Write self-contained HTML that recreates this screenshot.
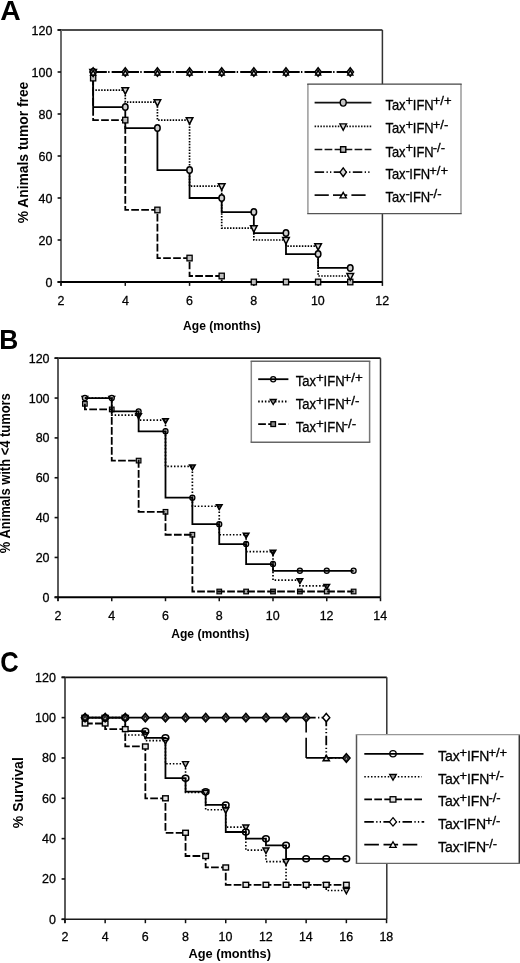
<!DOCTYPE html><html><head><meta charset="utf-8"><style>html,body{margin:0;padding:0;background:#fff;}svg{display:block;will-change:transform} text[font-weight="normal"],text:not([font-weight]){stroke:#000;stroke-width:0.3px}</style></head><body>
<svg width="520" height="963" viewBox="0 0 520 963" font-family="Liberation Sans, sans-serif">
<rect width="520" height="963" fill="#fff"/>
<text transform="translate(0.19,19.90) scale(1.0300,1)" font-size="27.5" font-weight="bold" fill="#000">A</text>
<path d="M57.60,30H382.4" fill="none" stroke="#111" stroke-width="1.7"/>
<path d="M382.4,30V282" fill="none" stroke="#333" stroke-width="1.5"/>
<path d="M61,30V285.60" fill="none" stroke="#6c6c6c" stroke-width="2.0"/>
<path d="M57.60,282H382.4" fill="none" stroke="#000" stroke-width="1.9"/>
<path d="M57.60,282.00H61" stroke="#111" stroke-width="1.6"/>
<path d="M57.60,240.00H61" stroke="#111" stroke-width="1.6"/>
<path d="M57.60,198.00H61" stroke="#111" stroke-width="1.6"/>
<path d="M57.60,156.00H61" stroke="#111" stroke-width="1.6"/>
<path d="M57.60,114.00H61" stroke="#111" stroke-width="1.6"/>
<path d="M57.60,72.00H61" stroke="#111" stroke-width="1.6"/>
<path d="M57.60,30.00H61" stroke="#111" stroke-width="1.6"/>
<path d="M61.00,282V285.90" stroke="#111" stroke-width="1.5"/>
<path d="M125.28,282V285.90" stroke="#111" stroke-width="1.5"/>
<path d="M189.56,282V285.90" stroke="#111" stroke-width="1.5"/>
<path d="M253.84,282V285.90" stroke="#111" stroke-width="1.5"/>
<path d="M318.12,282V285.90" stroke="#111" stroke-width="1.5"/>
<path d="M382.40,282V285.90" stroke="#111" stroke-width="1.5"/>
<text transform="translate(45.39,286.50) scale(0.9200,1)" font-size="13.6" font-weight="normal" fill="#000">0</text>
<text transform="translate(38.45,244.50) scale(0.9200,1)" font-size="13.6" font-weight="normal" fill="#000">20</text>
<text transform="translate(38.45,202.50) scale(0.9200,1)" font-size="13.6" font-weight="normal" fill="#000">40</text>
<text transform="translate(38.45,160.50) scale(0.9200,1)" font-size="13.6" font-weight="normal" fill="#000">60</text>
<text transform="translate(38.45,118.50) scale(0.9200,1)" font-size="13.6" font-weight="normal" fill="#000">80</text>
<text transform="translate(31.51,76.50) scale(0.9200,1)" font-size="13.6" font-weight="normal" fill="#000">100</text>
<text transform="translate(31.51,34.50) scale(0.9200,1)" font-size="13.6" font-weight="normal" fill="#000">120</text>
<text transform="translate(57.54,305.00) scale(0.9300,1)" font-size="13.4" font-weight="normal" fill="#000">2</text>
<text transform="translate(121.88,305.00) scale(0.9300,1)" font-size="13.4" font-weight="normal" fill="#000">4</text>
<text transform="translate(186.04,305.00) scale(0.9300,1)" font-size="13.4" font-weight="normal" fill="#000">6</text>
<text transform="translate(250.35,305.00) scale(0.9300,1)" font-size="13.4" font-weight="normal" fill="#000">8</text>
<text transform="translate(310.95,305.00) scale(0.9300,1)" font-size="13.4" font-weight="normal" fill="#000">10</text>
<text transform="translate(375.33,305.00) scale(0.9300,1)" font-size="13.4" font-weight="normal" fill="#000">12</text>
<text transform="translate(27.80,223.35) rotate(-90) scale(0.9886,1)" font-size="14" font-weight="bold">% Animals tumor free</text>
<text transform="translate(183.10,330.20) scale(0.9089,1)" font-size="13.3" font-weight="bold">Age (months)</text>
<path d="M93.14,72.00H125.28" stroke="#000" stroke-width="1.9" stroke-dasharray="13.7 1.3 1.4 2.1 40"/>
<path d="M125.28,72.00H157.42" stroke="#000" stroke-width="1.9" stroke-dasharray="13.7 1.3 1.4 2.1 40"/>
<path d="M157.42,72.00H189.56" stroke="#000" stroke-width="1.9" stroke-dasharray="13.7 1.3 1.4 2.1 40"/>
<path d="M189.56,72.00H221.70" stroke="#000" stroke-width="1.9" stroke-dasharray="13.7 1.3 1.4 2.1 40"/>
<path d="M221.70,72.00H253.84" stroke="#000" stroke-width="1.9" stroke-dasharray="13.7 1.3 1.4 2.1 40"/>
<path d="M253.84,72.00H285.98" stroke="#000" stroke-width="1.9" stroke-dasharray="13.7 1.3 1.4 2.1 40"/>
<path d="M285.98,72.00H318.12" stroke="#000" stroke-width="1.9" stroke-dasharray="13.7 1.3 1.4 2.1 40"/>
<path d="M318.12,72.00H350.26" stroke="#000" stroke-width="1.9" stroke-dasharray="13.7 1.3 1.4 2.1 40"/>
<path d="M93.14,78.09V120.09H125.28V209.97H157.42V258.06H189.56V275.99H221.70V282.00H253.84V282.00H285.98V282.00H318.12V282.00H350.26" fill="none" stroke="#000" stroke-width="1.8" stroke-dasharray="7.7 2.3"/>
<path d="M93.14,72.00V90.06H125.28V102.03H157.42V120.09H189.56V186.03H221.70V228.03H253.84V240.00H285.98V246.09H318.12V275.99H350.26" fill="none" stroke="#000" stroke-width="1.7" stroke-dasharray="1.5 1.4"/>
<path d="M93.14,72.00V107.07H125.28V128.07H157.42V170.07H189.56V198.00H221.70V212.07H253.84V233.07H285.98V254.07H318.12V267.93H350.26" fill="none" stroke="#000" stroke-width="1.8"/>
<rect x="90.54" y="75.29" width="5.20" height="5.60" fill="#bdbdbd" stroke="#000" stroke-width="1.3"/>
<rect x="122.68" y="117.29" width="5.20" height="5.60" fill="#bdbdbd" stroke="#000" stroke-width="1.3"/>
<rect x="154.82" y="207.17" width="5.20" height="5.60" fill="#bdbdbd" stroke="#000" stroke-width="1.3"/>
<rect x="186.96" y="255.26" width="5.20" height="5.60" fill="#bdbdbd" stroke="#000" stroke-width="1.3"/>
<rect x="219.10" y="273.19" width="5.20" height="5.60" fill="#bdbdbd" stroke="#000" stroke-width="1.3"/>
<rect x="251.24" y="279.20" width="5.20" height="5.60" fill="#bdbdbd" stroke="#000" stroke-width="1.3"/>
<rect x="283.38" y="279.20" width="5.20" height="5.60" fill="#bdbdbd" stroke="#000" stroke-width="1.3"/>
<rect x="315.52" y="279.20" width="5.20" height="5.60" fill="#bdbdbd" stroke="#000" stroke-width="1.3"/>
<rect x="347.66" y="279.20" width="5.20" height="5.60" fill="#bdbdbd" stroke="#000" stroke-width="1.3"/>
<path d="M89.84,69.60H96.44L93.14,76.00Z" fill="#d8d8d8" stroke="#000" stroke-width="1.5" stroke-linejoin="miter"/>
<path d="M121.98,87.66H128.58L125.28,94.06Z" fill="#d8d8d8" stroke="#000" stroke-width="1.5" stroke-linejoin="miter"/>
<path d="M154.12,99.63H160.72L157.42,106.03Z" fill="#d8d8d8" stroke="#000" stroke-width="1.5" stroke-linejoin="miter"/>
<path d="M186.26,117.69H192.86L189.56,124.09Z" fill="#d8d8d8" stroke="#000" stroke-width="1.5" stroke-linejoin="miter"/>
<path d="M218.40,183.63H225.00L221.70,190.03Z" fill="#d8d8d8" stroke="#000" stroke-width="1.5" stroke-linejoin="miter"/>
<path d="M250.54,225.63H257.14L253.84,232.03Z" fill="#d8d8d8" stroke="#000" stroke-width="1.5" stroke-linejoin="miter"/>
<path d="M282.68,237.60H289.28L285.98,244.00Z" fill="#d8d8d8" stroke="#000" stroke-width="1.5" stroke-linejoin="miter"/>
<path d="M314.82,243.69H321.42L318.12,250.09Z" fill="#d8d8d8" stroke="#000" stroke-width="1.5" stroke-linejoin="miter"/>
<path d="M346.96,273.59H353.56L350.26,279.99Z" fill="#d8d8d8" stroke="#000" stroke-width="1.5" stroke-linejoin="miter"/>
<ellipse cx="93.14" cy="72.00" rx="2.75" ry="3.25" fill="#d0d0d0" stroke="#000" stroke-width="1.5"/>
<ellipse cx="125.28" cy="107.07" rx="2.75" ry="3.25" fill="#d0d0d0" stroke="#000" stroke-width="1.5"/>
<ellipse cx="157.42" cy="128.07" rx="2.75" ry="3.25" fill="#d0d0d0" stroke="#000" stroke-width="1.5"/>
<ellipse cx="189.56" cy="170.07" rx="2.75" ry="3.25" fill="#d0d0d0" stroke="#000" stroke-width="1.5"/>
<ellipse cx="221.70" cy="198.00" rx="2.75" ry="3.25" fill="#d0d0d0" stroke="#000" stroke-width="1.5"/>
<ellipse cx="253.84" cy="212.07" rx="2.75" ry="3.25" fill="#d0d0d0" stroke="#000" stroke-width="1.5"/>
<ellipse cx="285.98" cy="233.07" rx="2.75" ry="3.25" fill="#d0d0d0" stroke="#000" stroke-width="1.5"/>
<ellipse cx="318.12" cy="254.07" rx="2.75" ry="3.25" fill="#d0d0d0" stroke="#000" stroke-width="1.5"/>
<ellipse cx="350.26" cy="267.93" rx="2.75" ry="3.25" fill="#d0d0d0" stroke="#000" stroke-width="1.5"/>
<path d="M93.14,67.70L96.44,72.00L93.14,76.30L89.84,72.00Z" fill="#bbb" stroke="#000" stroke-width="1.4"/>
<path d="M125.28,67.70L128.58,72.00L125.28,76.30L121.98,72.00Z" fill="#bbb" stroke="#000" stroke-width="1.4"/>
<path d="M157.42,67.70L160.72,72.00L157.42,76.30L154.12,72.00Z" fill="#bbb" stroke="#000" stroke-width="1.4"/>
<path d="M189.56,67.70L192.86,72.00L189.56,76.30L186.26,72.00Z" fill="#bbb" stroke="#000" stroke-width="1.4"/>
<path d="M221.70,67.70L225.00,72.00L221.70,76.30L218.40,72.00Z" fill="#bbb" stroke="#000" stroke-width="1.4"/>
<path d="M253.84,67.70L257.14,72.00L253.84,76.30L250.54,72.00Z" fill="#bbb" stroke="#000" stroke-width="1.4"/>
<path d="M285.98,67.70L289.28,72.00L285.98,76.30L282.68,72.00Z" fill="#bbb" stroke="#000" stroke-width="1.4"/>
<path d="M318.12,67.70L321.42,72.00L318.12,76.30L314.82,72.00Z" fill="#bbb" stroke="#000" stroke-width="1.4"/>
<path d="M350.26,67.70L353.56,72.00L350.26,76.30L346.96,72.00Z" fill="#bbb" stroke="#000" stroke-width="1.4"/>
<path d="M90.64,74.90H95.64L93.14,70.30Z" fill="#e8e8e8" stroke="#000" stroke-width="1.5" stroke-linejoin="miter"/>
<path d="M122.78,74.90H127.78L125.28,70.30Z" fill="#e8e8e8" stroke="#000" stroke-width="1.5" stroke-linejoin="miter"/>
<path d="M154.92,74.90H159.92L157.42,70.30Z" fill="#e8e8e8" stroke="#000" stroke-width="1.5" stroke-linejoin="miter"/>
<path d="M187.06,74.90H192.06L189.56,70.30Z" fill="#e8e8e8" stroke="#000" stroke-width="1.5" stroke-linejoin="miter"/>
<path d="M219.20,74.90H224.20L221.70,70.30Z" fill="#e8e8e8" stroke="#000" stroke-width="1.5" stroke-linejoin="miter"/>
<path d="M251.34,74.90H256.34L253.84,70.30Z" fill="#e8e8e8" stroke="#000" stroke-width="1.5" stroke-linejoin="miter"/>
<path d="M283.48,74.90H288.48L285.98,70.30Z" fill="#e8e8e8" stroke="#000" stroke-width="1.5" stroke-linejoin="miter"/>
<path d="M315.62,74.90H320.62L318.12,70.30Z" fill="#e8e8e8" stroke="#000" stroke-width="1.5" stroke-linejoin="miter"/>
<path d="M347.76,74.90H352.76L350.26,70.30Z" fill="#e8e8e8" stroke="#000" stroke-width="1.5" stroke-linejoin="miter"/>
<rect x="307.9" y="84.1" width="153.10" height="129.50" fill="#fff"/>
<path d="M307.9,84.1V213.6" stroke="#9a9a9a" stroke-width="1.5"/>
<path d="M461.0,84.1V213.6" stroke="#9a9a9a" stroke-width="1.5"/>
<path d="M307.2,84.1H461.7" stroke="#444" stroke-width="1.4"/>
<path d="M307.2,213.6H461.7" stroke="#555" stroke-width="1.4"/>
<path d="M314.6,102.6H371.4" stroke="#111" stroke-width="1.7"/>
<ellipse cx="343.20" cy="102.60" rx="3.00" ry="3.50" fill="#c4c4c4" stroke="#000" stroke-width="1.4"/>
<path d="M314.6,126.3H371.4" stroke="#111" stroke-width="1.7" stroke-dasharray="1.5 1.4"/>
<path d="M339.90,123.90H346.50L343.20,130.30Z" fill="#d8d8d8" stroke="#000" stroke-width="1.4" stroke-linejoin="miter"/>
<path d="M314.6,149.5H371.4" stroke="#111" stroke-width="1.7" stroke-dasharray="7.7 2.3"/>
<rect x="340.60" y="146.70" width="5.20" height="5.60" fill="#bdbdbd" stroke="#000" stroke-width="1.4"/>
<path d="M314.6,172.2H371.4" stroke="#111" stroke-width="1.7" stroke-dasharray="9.5 2.4 1.3 2.2 1.3 2.4"/>
<path d="M343.20,167.90L346.40,172.20L343.20,176.50L340.00,172.20Z" fill="#d8d8d8" stroke="#000" stroke-width="1.4"/>
<path d="M314.6,195.2H366.0" stroke="#111" stroke-width="1.7" stroke-dasharray="14.2 4.2"/>
<path d="M340.10,197.90H346.30L343.20,192.50Z" fill="#ffffff" stroke="#000" stroke-width="1.4" stroke-linejoin="miter"/>
<text transform="translate(385.40,109.70) scale(0.92,1)" font-size="14.1">Tax</text>
<text transform="translate(405.49,105.10) scale(1.05,1)" font-size="12.5">+</text>
<text transform="translate(412.85,109.70) scale(0.92,1)" font-size="14.1">IFN</text>
<text transform="translate(432.65,105.10) scale(1.05,1)" font-size="12.5">+/+</text>
<text transform="translate(385.40,133.40) scale(0.92,1)" font-size="14.1">Tax</text>
<text transform="translate(405.49,128.80) scale(1.05,1)" font-size="12.5">+</text>
<text transform="translate(412.85,133.40) scale(0.92,1)" font-size="14.1">IFN</text>
<text transform="translate(432.65,128.80) scale(1.05,1)" font-size="12.5">+/-</text>
<text transform="translate(385.40,156.60) scale(0.92,1)" font-size="14.1">Tax</text>
<text transform="translate(405.49,152.00) scale(1.05,1)" font-size="12.5">+</text>
<text transform="translate(412.85,156.60) scale(0.92,1)" font-size="14.1">IFN</text>
<text transform="translate(432.65,152.00) scale(1.05,1)" font-size="12.5">-/-</text>
<text transform="translate(385.40,179.30) scale(0.92,1)" font-size="14.1">Tax</text>
<text transform="translate(405.49,174.70) scale(1.05,1)" font-size="12.5">-</text>
<text transform="translate(409.36,179.30) scale(0.92,1)" font-size="14.1">IFN</text>
<text transform="translate(429.15,174.70) scale(1.05,1)" font-size="12.5">+/+</text>
<text transform="translate(385.40,202.30) scale(0.92,1)" font-size="14.1">Tax</text>
<text transform="translate(405.49,197.70) scale(1.05,1)" font-size="12.5">-</text>
<text transform="translate(409.36,202.30) scale(0.92,1)" font-size="14.1">IFN</text>
<text transform="translate(429.15,197.70) scale(1.05,1)" font-size="12.5">-/-</text>
<text transform="translate(-0.81,349.00) scale(0.9700,1)" font-size="27.2" font-weight="bold" fill="#000">B</text>
<path d="M54.60,358.2H380.5" fill="none" stroke="#111" stroke-width="1.7"/>
<path d="M380.5,358.2V597.3" fill="none" stroke="#333" stroke-width="1.5"/>
<path d="M58,358.2V600.90" fill="none" stroke="#4a4a4a" stroke-width="1.8"/>
<path d="M54.60,597.3H380.5" fill="none" stroke="#000" stroke-width="1.9"/>
<path d="M54.60,597.30H58" stroke="#111" stroke-width="1.6"/>
<path d="M54.60,557.45H58" stroke="#111" stroke-width="1.6"/>
<path d="M54.60,517.60H58" stroke="#111" stroke-width="1.6"/>
<path d="M54.60,477.75H58" stroke="#111" stroke-width="1.6"/>
<path d="M54.60,437.90H58" stroke="#111" stroke-width="1.6"/>
<path d="M54.60,398.05H58" stroke="#111" stroke-width="1.6"/>
<path d="M54.60,358.20H58" stroke="#111" stroke-width="1.6"/>
<path d="M58.00,597.3V601.20" stroke="#111" stroke-width="1.5"/>
<path d="M111.75,597.3V601.20" stroke="#111" stroke-width="1.5"/>
<path d="M165.50,597.3V601.20" stroke="#111" stroke-width="1.5"/>
<path d="M219.25,597.3V601.20" stroke="#111" stroke-width="1.5"/>
<path d="M273.00,597.3V601.20" stroke="#111" stroke-width="1.5"/>
<path d="M326.75,597.3V601.20" stroke="#111" stroke-width="1.5"/>
<path d="M380.50,597.3V601.20" stroke="#111" stroke-width="1.5"/>
<text transform="translate(42.59,601.80) scale(0.9200,1)" font-size="13.6" font-weight="normal" fill="#000">0</text>
<text transform="translate(35.65,561.95) scale(0.9200,1)" font-size="13.6" font-weight="normal" fill="#000">20</text>
<text transform="translate(35.65,522.10) scale(0.9200,1)" font-size="13.6" font-weight="normal" fill="#000">40</text>
<text transform="translate(35.65,482.25) scale(0.9200,1)" font-size="13.6" font-weight="normal" fill="#000">60</text>
<text transform="translate(35.65,442.40) scale(0.9200,1)" font-size="13.6" font-weight="normal" fill="#000">80</text>
<text transform="translate(28.71,402.55) scale(0.9200,1)" font-size="13.6" font-weight="normal" fill="#000">100</text>
<text transform="translate(28.71,362.70) scale(0.9200,1)" font-size="13.6" font-weight="normal" fill="#000">120</text>
<text transform="translate(54.54,619.60) scale(0.9300,1)" font-size="13.4" font-weight="normal" fill="#000">2</text>
<text transform="translate(108.35,619.60) scale(0.9300,1)" font-size="13.4" font-weight="normal" fill="#000">4</text>
<text transform="translate(161.98,619.60) scale(0.9300,1)" font-size="13.4" font-weight="normal" fill="#000">6</text>
<text transform="translate(215.76,619.60) scale(0.9300,1)" font-size="13.4" font-weight="normal" fill="#000">8</text>
<text transform="translate(265.83,619.60) scale(0.9300,1)" font-size="13.4" font-weight="normal" fill="#000">10</text>
<text transform="translate(319.68,619.60) scale(0.9300,1)" font-size="13.4" font-weight="normal" fill="#000">12</text>
<text transform="translate(373.30,619.60) scale(0.9300,1)" font-size="13.4" font-weight="normal" fill="#000">14</text>
<text transform="translate(10.00,553.22) rotate(-90) scale(0.9228,1)" font-size="14" font-weight="bold">% Animals with &lt;4 tumors</text>
<text transform="translate(171.20,638.10) scale(0.9124,1)" font-size="13.3" font-weight="bold">Age (months)</text>
<path d="M82.08,396.55H87.67L84.88,401.35Z" fill="#707070" stroke="#000" stroke-width="1.5" stroke-linejoin="miter"/>
<path d="M108.95,396.55H114.55L111.75,401.35Z" fill="#707070" stroke="#000" stroke-width="1.5" stroke-linejoin="miter"/>
<path d="M135.82,413.69H141.43L138.62,418.49Z" fill="#707070" stroke="#000" stroke-width="1.5" stroke-linejoin="miter"/>
<path d="M162.70,418.67H168.30L165.50,423.47Z" fill="#707070" stroke="#000" stroke-width="1.5" stroke-linejoin="miter"/>
<path d="M189.57,464.89H195.18L192.38,469.69Z" fill="#707070" stroke="#000" stroke-width="1.5" stroke-linejoin="miter"/>
<path d="M216.45,504.74H222.05L219.25,509.54Z" fill="#707070" stroke="#000" stroke-width="1.5" stroke-linejoin="miter"/>
<path d="M243.32,533.24H248.93L246.12,538.04Z" fill="#707070" stroke="#000" stroke-width="1.5" stroke-linejoin="miter"/>
<path d="M270.20,550.17H275.80L273.00,554.97Z" fill="#707070" stroke="#000" stroke-width="1.5" stroke-linejoin="miter"/>
<path d="M297.07,578.66H302.68L299.88,583.46Z" fill="#707070" stroke="#000" stroke-width="1.5" stroke-linejoin="miter"/>
<path d="M323.95,584.44H329.55L326.75,589.24Z" fill="#707070" stroke="#000" stroke-width="1.5" stroke-linejoin="miter"/>
<rect x="82.58" y="401.53" width="4.60" height="4.60" fill="#a8a8a8" stroke="#000" stroke-width="1.2"/>
<rect x="109.45" y="407.11" width="4.60" height="4.60" fill="#a8a8a8" stroke="#000" stroke-width="1.2"/>
<rect x="136.32" y="458.31" width="4.60" height="4.60" fill="#a8a8a8" stroke="#000" stroke-width="1.2"/>
<rect x="163.20" y="509.52" width="4.60" height="4.60" fill="#a8a8a8" stroke="#000" stroke-width="1.2"/>
<rect x="190.07" y="532.44" width="4.60" height="4.60" fill="#a8a8a8" stroke="#000" stroke-width="1.2"/>
<rect x="216.95" y="589.22" width="4.60" height="4.60" fill="#a8a8a8" stroke="#000" stroke-width="1.2"/>
<rect x="243.82" y="589.22" width="4.60" height="4.60" fill="#a8a8a8" stroke="#000" stroke-width="1.2"/>
<rect x="270.70" y="589.22" width="4.60" height="4.60" fill="#a8a8a8" stroke="#000" stroke-width="1.2"/>
<rect x="297.57" y="589.22" width="4.60" height="4.60" fill="#a8a8a8" stroke="#000" stroke-width="1.2"/>
<rect x="324.45" y="589.22" width="4.60" height="4.60" fill="#a8a8a8" stroke="#000" stroke-width="1.2"/>
<rect x="351.32" y="589.22" width="4.60" height="4.60" fill="#a8a8a8" stroke="#000" stroke-width="1.2"/>
<ellipse cx="84.88" cy="398.05" rx="2.50" ry="2.60" fill="#c4c4c4" stroke="#000" stroke-width="1.3"/>
<ellipse cx="111.75" cy="398.05" rx="2.50" ry="2.60" fill="#c4c4c4" stroke="#000" stroke-width="1.3"/>
<ellipse cx="138.62" cy="411.40" rx="2.50" ry="2.60" fill="#c4c4c4" stroke="#000" stroke-width="1.3"/>
<ellipse cx="165.50" cy="431.32" rx="2.50" ry="2.60" fill="#c4c4c4" stroke="#000" stroke-width="1.3"/>
<ellipse cx="192.38" cy="497.67" rx="2.50" ry="2.60" fill="#c4c4c4" stroke="#000" stroke-width="1.3"/>
<ellipse cx="219.25" cy="524.18" rx="2.50" ry="2.60" fill="#c4c4c4" stroke="#000" stroke-width="1.3"/>
<ellipse cx="246.12" cy="544.10" rx="2.50" ry="2.60" fill="#c4c4c4" stroke="#000" stroke-width="1.3"/>
<ellipse cx="273.00" cy="564.03" rx="2.50" ry="2.60" fill="#c4c4c4" stroke="#000" stroke-width="1.3"/>
<ellipse cx="299.88" cy="570.80" rx="2.50" ry="2.60" fill="#c4c4c4" stroke="#000" stroke-width="1.3"/>
<ellipse cx="326.75" cy="570.80" rx="2.50" ry="2.60" fill="#c4c4c4" stroke="#000" stroke-width="1.3"/>
<ellipse cx="353.62" cy="570.80" rx="2.50" ry="2.60" fill="#c4c4c4" stroke="#000" stroke-width="1.3"/>
<path d="M84.88,403.83V409.41H111.75V460.61H138.62V511.82H165.50V534.74H192.38V591.52H219.25V591.52H246.12V591.52H273.00V591.52H299.88V591.52H326.75V591.52H353.62" fill="none" stroke="#000" stroke-width="1.8" stroke-dasharray="7.7 2.3"/>
<path d="M84.88,398.05V398.05H111.75V415.19H138.62V420.17H165.50V466.39H192.38V506.24H219.25V534.74H246.12V551.67H273.00V580.16H299.88V585.94H326.75" fill="none" stroke="#000" stroke-width="1.7" stroke-dasharray="1.5 1.85"/>
<path d="M84.88,398.05V398.05H111.75V411.40H138.62V431.32H165.50V497.67H192.38V524.18H219.25V544.10H246.12V564.03H273.00V570.80H299.88V570.80H326.75V570.80H353.62" fill="none" stroke="#000" stroke-width="1.8"/>
<rect x="251.3" y="361.2" width="118.30" height="81.10" fill="#fff"/>
<path d="M251.3,361.2V442.3" stroke="#888" stroke-width="1.5"/>
<path d="M369.6,361.2V442.3" stroke="#777" stroke-width="1.5"/>
<path d="M250.60000000000002,361.2H370.3" stroke="#666" stroke-width="1.4"/>
<path d="M250.60000000000002,442.3H370.3" stroke="#666" stroke-width="1.4"/>
<path d="M258.2,379.2H288.4" stroke="#000" stroke-width="1.8"/>
<ellipse cx="273.20" cy="379.20" rx="2.50" ry="2.60" fill="none" stroke="#000" stroke-width="1.3"/>
<path d="M258.2,401.5H288.4" stroke="#000" stroke-width="1.8" stroke-dasharray="1.5 1.85"/>
<path d="M270.20,399.50H276.20L273.20,404.50Z" fill="#909090" stroke="#000" stroke-width="1.3" stroke-linejoin="miter"/>
<path d="M258.2,424.1H288.4" stroke="#000" stroke-width="1.8" stroke-dasharray="7.7 2.3"/>
<rect x="270.90" y="421.70" width="4.60" height="4.80" fill="#8a8a8a" stroke="#000" stroke-width="1.3"/>
<text transform="translate(295.80,386.20) scale(0.94,1)" font-size="13.9">Tax</text>
<text transform="translate(316.03,382.20) scale(1.08,1)" font-size="12.4">+</text>
<text transform="translate(323.55,386.20) scale(0.94,1)" font-size="13.9">IFN</text>
<text transform="translate(343.50,382.20) scale(1.08,1)" font-size="12.4">+/+</text>
<text transform="translate(295.80,409.00) scale(0.94,1)" font-size="13.9">Tax</text>
<text transform="translate(316.03,405.00) scale(1.08,1)" font-size="12.4">+</text>
<text transform="translate(323.55,409.00) scale(0.94,1)" font-size="13.9">IFN</text>
<text transform="translate(343.50,405.00) scale(1.08,1)" font-size="12.4">+/-</text>
<text transform="translate(295.80,431.50) scale(0.94,1)" font-size="13.9">Tax</text>
<text transform="translate(316.03,427.50) scale(1.08,1)" font-size="12.4">+</text>
<text transform="translate(323.55,431.50) scale(0.94,1)" font-size="13.9">IFN</text>
<text transform="translate(343.50,427.50) scale(1.08,1)" font-size="12.4">-/-</text>
<text transform="translate(0.13,672.00) scale(0.8750,1)" font-size="29.2" font-weight="bold" fill="#000">C</text>
<path d="M61.60,677.3H386.8" fill="none" stroke="#111" stroke-width="1.7"/>
<path d="M386.8,677.3V919.3" fill="none" stroke="#333" stroke-width="1.5"/>
<path d="M65,677.3V922.90" fill="none" stroke="#333" stroke-width="1.6"/>
<path d="M61.60,919.3H386.8" fill="none" stroke="#1a1a1a" stroke-width="1.5"/>
<path d="M61.60,919.30H65" stroke="#111" stroke-width="1.6"/>
<path d="M61.60,878.97H65" stroke="#111" stroke-width="1.6"/>
<path d="M61.60,838.63H65" stroke="#111" stroke-width="1.6"/>
<path d="M61.60,798.30H65" stroke="#111" stroke-width="1.6"/>
<path d="M61.60,757.97H65" stroke="#111" stroke-width="1.6"/>
<path d="M61.60,717.63H65" stroke="#111" stroke-width="1.6"/>
<path d="M61.60,677.30H65" stroke="#111" stroke-width="1.6"/>
<path d="M64.95,919.3V923.20" stroke="#111" stroke-width="1.5"/>
<path d="M105.15,919.3V923.20" stroke="#111" stroke-width="1.5"/>
<path d="M145.35,919.3V923.20" stroke="#111" stroke-width="1.5"/>
<path d="M185.55,919.3V923.20" stroke="#111" stroke-width="1.5"/>
<path d="M225.75,919.3V923.20" stroke="#111" stroke-width="1.5"/>
<path d="M265.95,919.3V923.20" stroke="#111" stroke-width="1.5"/>
<path d="M306.15,919.3V923.20" stroke="#111" stroke-width="1.5"/>
<path d="M346.35,919.3V923.20" stroke="#111" stroke-width="1.5"/>
<path d="M386.55,919.3V923.20" stroke="#111" stroke-width="1.5"/>
<text transform="translate(48.89,923.80) scale(0.9200,1)" font-size="13.6" font-weight="normal" fill="#000">0</text>
<text transform="translate(41.95,883.47) scale(0.9200,1)" font-size="13.6" font-weight="normal" fill="#000">20</text>
<text transform="translate(41.95,843.13) scale(0.9200,1)" font-size="13.6" font-weight="normal" fill="#000">40</text>
<text transform="translate(41.95,802.80) scale(0.9200,1)" font-size="13.6" font-weight="normal" fill="#000">60</text>
<text transform="translate(41.95,762.47) scale(0.9200,1)" font-size="13.6" font-weight="normal" fill="#000">80</text>
<text transform="translate(35.01,722.13) scale(0.9200,1)" font-size="13.6" font-weight="normal" fill="#000">100</text>
<text transform="translate(35.01,681.80) scale(0.9200,1)" font-size="13.6" font-weight="normal" fill="#000">120</text>
<text transform="translate(61.49,941.20) scale(0.9300,1)" font-size="13.4" font-weight="normal" fill="#000">2</text>
<text transform="translate(101.75,941.20) scale(0.9300,1)" font-size="13.4" font-weight="normal" fill="#000">4</text>
<text transform="translate(141.83,941.20) scale(0.9300,1)" font-size="13.4" font-weight="normal" fill="#000">6</text>
<text transform="translate(182.06,941.20) scale(0.9300,1)" font-size="13.4" font-weight="normal" fill="#000">8</text>
<text transform="translate(218.58,941.20) scale(0.9300,1)" font-size="13.4" font-weight="normal" fill="#000">10</text>
<text transform="translate(258.88,941.20) scale(0.9300,1)" font-size="13.4" font-weight="normal" fill="#000">12</text>
<text transform="translate(298.95,941.20) scale(0.9300,1)" font-size="13.4" font-weight="normal" fill="#000">14</text>
<text transform="translate(339.22,941.20) scale(0.9300,1)" font-size="13.4" font-weight="normal" fill="#000">16</text>
<text transform="translate(379.42,941.20) scale(0.9300,1)" font-size="13.4" font-weight="normal" fill="#000">18</text>
<text transform="translate(22.50,828.25) rotate(-90) scale(1.0042,1)" font-size="14" font-weight="bold">% Survival</text>
<text transform="translate(188.38,957.60) scale(0.9643,1)" font-size="13.3" font-weight="bold">Age (months)</text>
<path d="M85.05,717.63H306.15" stroke="#000" stroke-width="1.8"/>
<path d="M306.15,717.63V757.97" stroke="#000" stroke-width="1.6" stroke-dasharray="14.8 5.4 40 1"/>
<path d="M306.15,757.97H346.35" stroke="#000" stroke-width="1.8"/>
<path d="M306.15,717.63V717.63H326.25V757.97H346.35" fill="none" stroke="#000" stroke-width="1.8" stroke-dasharray="9.5 2.4 1.3 2.2 1.3 2.4"/>
<path d="M85.05,723.48V723.48H105.15V729.13H125.25V746.47H145.35V798.30H165.45V832.78H185.55V855.98H205.65V867.47H225.75V884.81H245.85V884.81H265.95V884.81H286.05V884.81H306.15V884.81H326.25V884.81H346.35" fill="none" stroke="#000" stroke-width="1.8" stroke-dasharray="7.7 2.3"/>
<path d="M85.05,717.63V717.63H105.15V717.63H125.25V734.98H145.35V740.62H165.45V763.81H185.55V792.45H205.65V809.79H225.75V827.14H245.85V850.13H265.95V861.62H286.05V884.81H306.15V884.81H326.25V890.46H346.35" fill="none" stroke="#000" stroke-width="1.6" stroke-dasharray="1.5 1.85"/>
<path d="M85.05,717.63V717.63H105.15V717.63H125.25V731.14H145.35V737.80H165.45V778.13H185.55V791.64H205.65V804.95H225.75V831.98H245.85V838.63H265.95V845.29H286.05V858.80H306.15V858.80H326.25V858.80H346.35" fill="none" stroke="#000" stroke-width="1.8"/>
<path d="M82.05,715.43H88.05L85.05,721.03Z" fill="#b0b0b0" stroke="#000" stroke-width="1.4" stroke-linejoin="miter"/>
<path d="M102.15,715.43H108.15L105.15,721.03Z" fill="#b0b0b0" stroke="#000" stroke-width="1.4" stroke-linejoin="miter"/>
<path d="M122.25,715.43H128.25L125.25,721.03Z" fill="#b0b0b0" stroke="#000" stroke-width="1.4" stroke-linejoin="miter"/>
<path d="M142.35,732.78H148.35L145.35,738.38Z" fill="#b0b0b0" stroke="#000" stroke-width="1.4" stroke-linejoin="miter"/>
<path d="M162.45,738.42H168.45L165.45,744.02Z" fill="#b0b0b0" stroke="#000" stroke-width="1.4" stroke-linejoin="miter"/>
<path d="M182.55,761.62H188.55L185.55,767.21Z" fill="#b0b0b0" stroke="#000" stroke-width="1.4" stroke-linejoin="miter"/>
<path d="M202.65,790.25H208.65L205.65,795.85Z" fill="#b0b0b0" stroke="#000" stroke-width="1.4" stroke-linejoin="miter"/>
<path d="M222.75,807.60H228.75L225.75,813.19Z" fill="#b0b0b0" stroke="#000" stroke-width="1.4" stroke-linejoin="miter"/>
<path d="M242.85,824.94H248.85L245.85,830.54Z" fill="#b0b0b0" stroke="#000" stroke-width="1.4" stroke-linejoin="miter"/>
<path d="M262.95,847.93H268.95L265.95,853.53Z" fill="#b0b0b0" stroke="#000" stroke-width="1.4" stroke-linejoin="miter"/>
<path d="M283.05,859.42H289.05L286.05,865.02Z" fill="#b0b0b0" stroke="#000" stroke-width="1.4" stroke-linejoin="miter"/>
<path d="M303.15,882.62H309.15L306.15,888.21Z" fill="#b0b0b0" stroke="#000" stroke-width="1.4" stroke-linejoin="miter"/>
<path d="M323.25,882.62H329.25L326.25,888.21Z" fill="#b0b0b0" stroke="#000" stroke-width="1.4" stroke-linejoin="miter"/>
<path d="M343.35,888.26H349.35L346.35,893.86Z" fill="#b0b0b0" stroke="#000" stroke-width="1.4" stroke-linejoin="miter"/>
<rect x="82.25" y="720.98" width="5.60" height="5.00" fill="#e4e4e4" stroke="#000" stroke-width="1.4"/>
<rect x="102.35" y="720.98" width="5.60" height="5.00" fill="#e4e4e4" stroke="#000" stroke-width="1.4"/>
<rect x="122.45" y="726.63" width="5.60" height="5.00" fill="#e4e4e4" stroke="#000" stroke-width="1.4"/>
<rect x="142.55" y="743.97" width="5.60" height="5.00" fill="#e4e4e4" stroke="#000" stroke-width="1.4"/>
<rect x="162.65" y="795.80" width="5.60" height="5.00" fill="#e4e4e4" stroke="#000" stroke-width="1.4"/>
<rect x="182.75" y="830.28" width="5.60" height="5.00" fill="#e4e4e4" stroke="#000" stroke-width="1.4"/>
<rect x="202.85" y="853.48" width="5.60" height="5.00" fill="#e4e4e4" stroke="#000" stroke-width="1.4"/>
<rect x="222.95" y="864.97" width="5.60" height="5.00" fill="#e4e4e4" stroke="#000" stroke-width="1.4"/>
<rect x="243.05" y="882.31" width="5.60" height="5.00" fill="#e4e4e4" stroke="#000" stroke-width="1.4"/>
<rect x="263.15" y="882.31" width="5.60" height="5.00" fill="#e4e4e4" stroke="#000" stroke-width="1.4"/>
<rect x="283.25" y="882.31" width="5.60" height="5.00" fill="#e4e4e4" stroke="#000" stroke-width="1.4"/>
<rect x="303.35" y="882.31" width="5.60" height="5.00" fill="#e4e4e4" stroke="#000" stroke-width="1.4"/>
<rect x="323.45" y="882.31" width="5.60" height="5.00" fill="#e4e4e4" stroke="#000" stroke-width="1.4"/>
<rect x="343.55" y="882.31" width="5.60" height="5.00" fill="#e4e4e4" stroke="#000" stroke-width="1.4"/>
<path d="M85.05,713.33L88.75,717.63L85.05,721.93L81.35,717.63Z" fill="#444" stroke="#000" stroke-width="1.5"/>
<path d="M105.15,713.33L108.85,717.63L105.15,721.93L101.45,717.63Z" fill="#444" stroke="#000" stroke-width="1.5"/>
<path d="M125.25,713.33L128.95,717.63L125.25,721.93L121.55,717.63Z" fill="#444" stroke="#000" stroke-width="1.5"/>
<path d="M145.35,713.33L149.05,717.63L145.35,721.93L141.65,717.63Z" fill="#444" stroke="#000" stroke-width="1.5"/>
<path d="M165.45,713.33L169.15,717.63L165.45,721.93L161.75,717.63Z" fill="#444" stroke="#000" stroke-width="1.5"/>
<path d="M185.55,713.33L189.25,717.63L185.55,721.93L181.85,717.63Z" fill="#444" stroke="#000" stroke-width="1.5"/>
<path d="M205.65,713.33L209.35,717.63L205.65,721.93L201.95,717.63Z" fill="#444" stroke="#000" stroke-width="1.5"/>
<path d="M225.75,713.33L229.45,717.63L225.75,721.93L222.05,717.63Z" fill="#444" stroke="#000" stroke-width="1.5"/>
<path d="M245.85,713.33L249.55,717.63L245.85,721.93L242.15,717.63Z" fill="#444" stroke="#000" stroke-width="1.5"/>
<path d="M265.95,713.33L269.65,717.63L265.95,721.93L262.25,717.63Z" fill="#444" stroke="#000" stroke-width="1.5"/>
<path d="M286.05,713.33L289.75,717.63L286.05,721.93L282.35,717.63Z" fill="#444" stroke="#000" stroke-width="1.5"/>
<path d="M306.15,713.33L309.85,717.63L306.15,721.93L302.45,717.63Z" fill="#444" stroke="#000" stroke-width="1.5"/>
<path d="M326.25,713.53L329.75,717.63L326.25,721.73L322.75,717.63Z" fill="#fff" stroke="#000" stroke-width="1.5"/>
<path d="M346.35,753.67L350.05,757.97L346.35,762.27L342.65,757.97Z" fill="#444" stroke="#000" stroke-width="1.5"/>
<path d="M83.25,719.63H86.85L85.05,716.23Z" fill="#bbb" stroke="#000" stroke-width="0.8" stroke-linejoin="miter"/>
<path d="M103.35,719.63H106.95L105.15,716.23Z" fill="#bbb" stroke="#000" stroke-width="0.8" stroke-linejoin="miter"/>
<path d="M123.45,719.63H127.05L125.25,716.23Z" fill="#bbb" stroke="#000" stroke-width="0.8" stroke-linejoin="miter"/>
<path d="M143.55,719.63H147.15L145.35,716.23Z" fill="#bbb" stroke="#000" stroke-width="0.8" stroke-linejoin="miter"/>
<path d="M163.65,719.63H167.25L165.45,716.23Z" fill="#bbb" stroke="#000" stroke-width="0.8" stroke-linejoin="miter"/>
<path d="M183.75,719.63H187.35L185.55,716.23Z" fill="#bbb" stroke="#000" stroke-width="0.8" stroke-linejoin="miter"/>
<path d="M203.85,719.63H207.45L205.65,716.23Z" fill="#bbb" stroke="#000" stroke-width="0.8" stroke-linejoin="miter"/>
<path d="M223.95,719.63H227.55L225.75,716.23Z" fill="#bbb" stroke="#000" stroke-width="0.8" stroke-linejoin="miter"/>
<path d="M244.05,719.63H247.65L245.85,716.23Z" fill="#bbb" stroke="#000" stroke-width="0.8" stroke-linejoin="miter"/>
<path d="M264.15,719.63H267.75L265.95,716.23Z" fill="#bbb" stroke="#000" stroke-width="0.8" stroke-linejoin="miter"/>
<path d="M284.25,719.63H287.85L286.05,716.23Z" fill="#bbb" stroke="#000" stroke-width="0.8" stroke-linejoin="miter"/>
<path d="M304.35,719.63H307.95L306.15,716.23Z" fill="#bbb" stroke="#000" stroke-width="0.8" stroke-linejoin="miter"/>
<path d="M323.15,760.77H329.35L326.25,755.57Z" fill="#d0d0d0" stroke="#000" stroke-width="1.5" stroke-linejoin="miter"/>
<path d="M344.55,759.97H348.15L346.35,756.57Z" fill="#bbb" stroke="#000" stroke-width="0.8" stroke-linejoin="miter"/>
<ellipse cx="85.05" cy="717.63" rx="3.30" ry="3.00" fill="none" stroke="#000" stroke-width="1.5"/>
<ellipse cx="105.15" cy="717.63" rx="3.30" ry="3.00" fill="none" stroke="#000" stroke-width="1.5"/>
<ellipse cx="125.25" cy="717.63" rx="3.30" ry="3.00" fill="none" stroke="#000" stroke-width="1.5"/>
<ellipse cx="145.35" cy="731.14" rx="3.30" ry="3.00" fill="none" stroke="#000" stroke-width="1.5"/>
<ellipse cx="165.45" cy="737.80" rx="3.30" ry="3.00" fill="none" stroke="#000" stroke-width="1.5"/>
<ellipse cx="185.55" cy="778.13" rx="3.30" ry="3.00" fill="none" stroke="#000" stroke-width="1.5"/>
<ellipse cx="205.65" cy="791.64" rx="3.30" ry="3.00" fill="none" stroke="#000" stroke-width="1.5"/>
<ellipse cx="225.75" cy="804.95" rx="3.30" ry="3.00" fill="none" stroke="#000" stroke-width="1.5"/>
<ellipse cx="245.85" cy="831.98" rx="3.30" ry="3.00" fill="none" stroke="#000" stroke-width="1.5"/>
<ellipse cx="265.95" cy="838.63" rx="3.30" ry="3.00" fill="none" stroke="#000" stroke-width="1.5"/>
<ellipse cx="286.05" cy="845.29" rx="3.30" ry="3.00" fill="none" stroke="#000" stroke-width="1.5"/>
<ellipse cx="306.15" cy="858.80" rx="3.30" ry="3.00" fill="none" stroke="#000" stroke-width="1.5"/>
<ellipse cx="326.25" cy="858.80" rx="3.30" ry="3.00" fill="none" stroke="#000" stroke-width="1.5"/>
<ellipse cx="346.35" cy="858.80" rx="3.30" ry="3.00" fill="none" stroke="#000" stroke-width="1.5"/>
<rect x="356.5" y="734.6" width="162.80" height="128.80" fill="#fff"/>
<path d="M356.5,734.6V863.4" stroke="#555" stroke-width="1.5"/>
<path d="M519.3,734.6V863.4" stroke="#333" stroke-width="1.5"/>
<path d="M355.8,734.6H520.0" stroke="#999" stroke-width="1.4"/>
<path d="M355.8,863.4H520.0" stroke="#666" stroke-width="1.4"/>
<path d="M364.3,753.8H423.5" stroke="#000" stroke-width="1.8"/>
<ellipse cx="393.00" cy="753.80" rx="3.20" ry="3.10" fill="none" stroke="#000" stroke-width="1.3"/>
<path d="M364.3,776.7H421.7" stroke="#000" stroke-width="1.4" stroke-dasharray="1.5 1.85"/>
<path d="M389.70,774.50H396.30L393.00,780.10Z" fill="#a0a0a0" stroke="#000" stroke-width="1.3" stroke-linejoin="miter"/>
<path d="M364.3,799.4H423.5" stroke="#000" stroke-width="1.8" stroke-dasharray="7.7 2.3"/>
<rect x="390.10" y="796.70" width="5.80" height="5.40" fill="#e0e0e0" stroke="#000" stroke-width="1.3"/>
<path d="M364.3,821.9H424.2" stroke="#000" stroke-width="1.8" stroke-dasharray="9.5 2.4 1.3 2.2 1.3 2.4"/>
<path d="M393.00,817.70L396.50,821.90L393.00,826.10L389.50,821.90Z" fill="#fff" stroke="#000" stroke-width="1.3"/>
<path d="M364.3,844.6H418.5" stroke="#000" stroke-width="1.8" stroke-dasharray="14.6 4.6"/>
<path d="M389.80,847.40H396.20L393.00,841.80Z" fill="#fff" stroke="#000" stroke-width="1.3" stroke-linejoin="miter"/>
<text transform="translate(437.90,760.60) scale(0.96,1)" font-size="14.6">Tax</text>
<text transform="translate(459.61,756.60) scale(1.04,1)" font-size="12.5">+</text>
<text transform="translate(466.90,760.60) scale(0.96,1)" font-size="14.6">IFN</text>
<text transform="translate(488.38,756.60) scale(1.04,1)" font-size="12.5">+/+</text>
<text transform="translate(437.90,783.60) scale(0.96,1)" font-size="14.6">Tax</text>
<text transform="translate(459.61,779.60) scale(1.04,1)" font-size="12.5">+</text>
<text transform="translate(466.90,783.60) scale(0.96,1)" font-size="14.6">IFN</text>
<text transform="translate(488.38,779.60) scale(1.04,1)" font-size="12.5">+/-</text>
<text transform="translate(437.90,805.90) scale(0.96,1)" font-size="14.6">Tax</text>
<text transform="translate(459.61,801.90) scale(1.04,1)" font-size="12.5">+</text>
<text transform="translate(466.90,805.90) scale(0.96,1)" font-size="14.6">IFN</text>
<text transform="translate(488.38,801.90) scale(1.04,1)" font-size="12.5">-/-</text>
<text transform="translate(437.90,828.80) scale(0.96,1)" font-size="14.6">Tax</text>
<text transform="translate(459.61,824.80) scale(1.04,1)" font-size="12.5">-</text>
<text transform="translate(463.44,828.80) scale(0.96,1)" font-size="14.6">IFN</text>
<text transform="translate(484.92,824.80) scale(1.04,1)" font-size="12.5">+/-</text>
<text transform="translate(437.90,851.90) scale(0.96,1)" font-size="14.6">Tax</text>
<text transform="translate(459.61,847.90) scale(1.04,1)" font-size="12.5">-</text>
<text transform="translate(463.44,851.90) scale(0.96,1)" font-size="14.6">IFN</text>
<text transform="translate(484.92,847.90) scale(1.04,1)" font-size="12.5">-/-</text>
</svg></body></html>
